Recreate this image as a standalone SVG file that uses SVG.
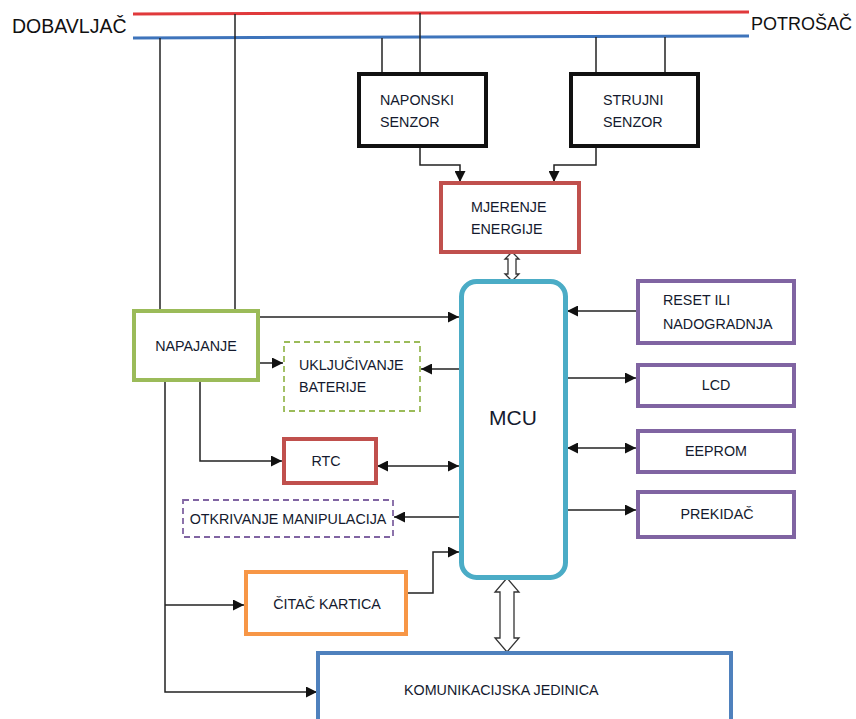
<svg xmlns="http://www.w3.org/2000/svg" width="856" height="719" viewBox="0 0 856 719">
<style>
text{font-family:"Liberation Sans",Arial,sans-serif;font-size:14.3px;fill:#141a2e}
.big{font-size:18px;fill:#111}
.c{text-anchor:middle}
.ln{fill:none;stroke:#222;stroke-width:1.5}
.box{fill:#fff}
</style>
<defs>
<marker id="ah" viewBox="0 0 10 10" refX="10" refY="5" markerWidth="11" markerHeight="11" markerUnits="userSpaceOnUse" orient="auto-start-reverse">
<path d="M0,0 L10,5 L0,10 z" fill="#111"/>
</marker>
</defs>
<rect width="856" height="719" fill="#fff"/>

<g id="bus">
<line x1="133" y1="14" x2="749" y2="12" stroke="#E0393B" stroke-width="3"/>
<line x1="133" y1="38" x2="749" y2="36" stroke="#3E74BB" stroke-width="3"/>
<text x="12" y="33" class="big" style="font-size:19.5px">DOBAVLJAČ</text>
<text x="751" y="30" class="big">POTROŠAČ</text>
</g>

<g id="connectors">
<path class="ln" d="M160,38 V310"/>
<path class="ln" d="M235,14 V310"/>
<path class="ln" d="M382,38 V73"/>
<path class="ln" d="M420,13 V73"/>
<path class="ln" d="M596,37 V73"/>
<path class="ln" d="M665,37 V73"/>
<path class="ln" d="M420,146 V165 H460 V182" marker-end="url(#ah)"/>
<path class="ln" d="M596,146 V165 H554 V182" marker-end="url(#ah)"/>
<polygon points="512,252 519,259 516,259 516,274 519,274 512,281 505,274 508,274 508,259 505,259" fill="#fff" stroke="#333" stroke-width="1.3"/>
<polygon points="507,578 519,592 514,592 514,638 519,638 507,652 495,638 500,638 500,592 495,592" fill="#fff" stroke="#333" stroke-width="1.3"/>
<path class="ln" d="M258,317 H459" marker-end="url(#ah)"/>
<path class="ln" d="M258,363 H283" marker-end="url(#ah)"/>
<path class="ln" d="M460,369 H421" marker-end="url(#ah)"/>
<path class="ln" d="M200,380 V461 H282" marker-end="url(#ah)"/>
<path class="ln" d="M377,466 H459" marker-start="url(#ah)" marker-end="url(#ah)"/>
<path class="ln" d="M460,517 H394" marker-end="url(#ah)"/>
<path class="ln" d="M406,593 H433 V552 H459" marker-end="url(#ah)"/>
<path class="ln" d="M165,380 V692 H317" marker-end="url(#ah)"/>
<path class="ln" d="M165,605 H244" marker-end="url(#ah)"/>
<path class="ln" d="M637,311 H567" marker-end="url(#ah)"/>
<path class="ln" d="M566,378 H636" marker-end="url(#ah)"/>
<path class="ln" d="M567,448 H636" marker-start="url(#ah)" marker-end="url(#ah)"/>
<path class="ln" d="M566,510 H636" marker-end="url(#ah)"/>
</g>

<g id="naponski">
<rect x="359" y="74" width="127" height="72" class="box" stroke="#111" stroke-width="4"/>
<text x="380" y="105">NAPONSKI</text>
<text x="380" y="127">SENZOR</text>
</g>
<g id="strujni">
<rect x="571" y="74" width="127" height="72" class="box" stroke="#111" stroke-width="4"/>
<text x="603" y="105">STRUJNI</text>
<text x="603" y="127">SENZOR</text>
</g>
<g id="mjerenje">
<rect x="441" y="183" width="138" height="69" class="box" stroke="#C0504D" stroke-width="4"/>
<text x="471" y="212">MJERENJE</text>
<text x="471" y="234">ENERGIJE</text>
</g>
<g id="mcu">
<rect x="461.5" y="281.5" width="104" height="296" rx="15" class="box" stroke="#4BACC6" stroke-width="5"/>
<text x="513" y="425" class="c" style="font-size:21px">MCU</text>
</g>
<g id="napajanje">
<rect x="134" y="311" width="124" height="69" class="box" stroke="#9BBB59" stroke-width="4"/>
<text x="196" y="351" class="c">NAPAJANJE</text>
</g>
<g id="ukljucivanje">
<rect x="284" y="342" width="136" height="69" class="box" stroke="#9BBB59" stroke-width="1.8" stroke-dasharray="6,4"/>
<text x="299" y="370">UKLJUČIVANJE</text>
<text x="299" y="392">BATERIJE</text>
</g>
<g id="rtc">
<rect x="284" y="439" width="92" height="44" class="box" stroke="#C0504D" stroke-width="4"/>
<text x="326" y="466" class="c">RTC</text>
</g>
<g id="otkrivanje">
<rect x="183" y="500" width="210" height="37" class="box" stroke="#8064A2" stroke-width="1.8" stroke-dasharray="6,4"/>
<text x="288" y="524" class="c">OTKRIVANJE MANIPULACIJA</text>
</g>
<g id="citac">
<rect x="246" y="572" width="160" height="62" class="box" stroke="#F79646" stroke-width="4"/>
<text x="327" y="609" class="c">ČITAČ KARTICA</text>
</g>
<g id="komunikacija">
<rect x="318" y="653" width="413" height="80" class="box" stroke="#4F81BD" stroke-width="4"/>
<text x="404" y="695">KOMUNIKACIJSKA JEDINICA</text>
</g>
<g id="reset">
<rect x="638" y="281" width="156" height="62" class="box" stroke="#8064A2" stroke-width="4"/>
<text x="663" y="305">RESET ILI</text>
<text x="663" y="329">NADOGRADNJA</text>
</g>
<g id="lcd">
<rect x="638" y="365" width="156" height="41" class="box" stroke="#8064A2" stroke-width="4"/>
<text x="716" y="390" class="c">LCD</text>
</g>
<g id="eeprom">
<rect x="638" y="431" width="156" height="41" class="box" stroke="#8064A2" stroke-width="4"/>
<text x="716" y="456" class="c">EEPROM</text>
</g>
<g id="prekidac">
<rect x="638" y="492" width="156" height="45" class="box" stroke="#8064A2" stroke-width="4"/>
<text x="717" y="519" class="c">PREKIDAČ</text>
</g>
</svg>
